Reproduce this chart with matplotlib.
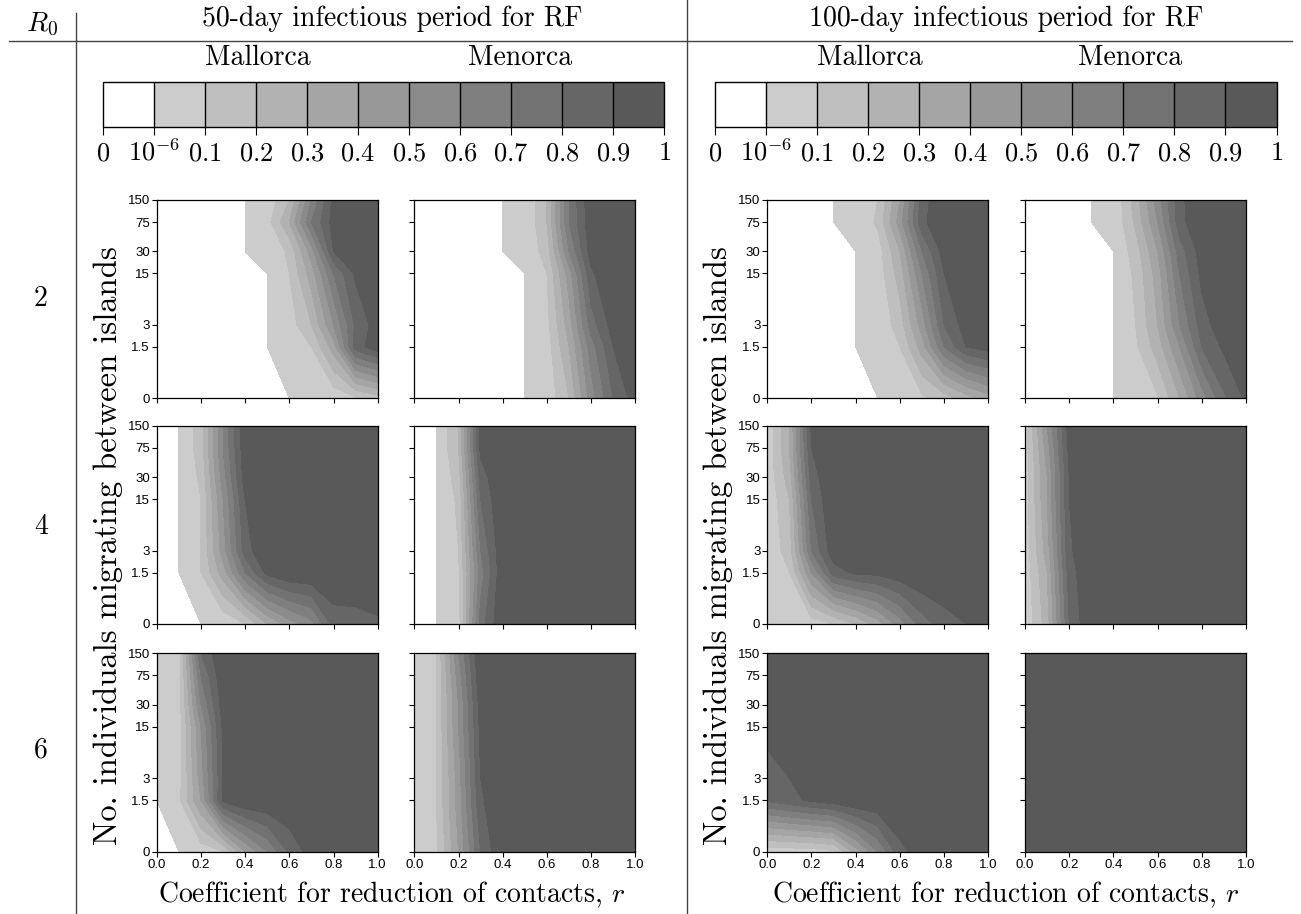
import numpy as np
import matplotlib.pyplot as plt
from matplotlib.colors import ListedColormap, BoundaryNorm
from matplotlib.cm import ScalarMappable
from matplotlib.lines import Line2D

plt.rcParams['mathtext.fontset'] = 'cm'
plt.rcParams['axes.unicode_minus'] = False

# grid of the simulations
r_values = [0.0, 0.1, 0.2, 0.3, 0.4, 0.5, 0.6, 0.7, 0.8, 0.9, 1.0]
migrants = [0, 1.5, 3, 15, 30, 75, 150]
migrant_labels = ['0', '1.5', '3', '15', '30', '75', '150']
r0_labels = ['2', '4', '6']
period_titles = ['50-day infectious period for RF', '100-day infectious period for RF']
islands = ['Mallorca', 'Menorca']

levels = [0, 1e-6, 0.1, 0.2, 0.3, 0.4, 0.5, 0.6, 0.7, 0.8, 0.9, 1.0]
level_labels = ['$0$', '$10^{-6}$', '$0.1$', '$0.2$', '$0.3$', '$0.4$', '$0.5$',
                '$0.6$', '$0.7$', '$0.8$', '$0.9$', '$1$']

# rows: migrants 0, 1.5, 3, 15, 30, 75, 150 ; columns: r = 0 .. 1
r2_50_mallorca = [
    [0, 0, 0, 0, 0, 0, 0, .01, .03, .08, .15],
    [0, 0, 0, 0, 0, 0, .03, .1, .35, .85, .97],
    [0, 0, 0, 0, 0, 0, .05, .2, .5, .82, .95],
    [0, 0, 0, 0, 0, 0, .1, .35, .7, .92, 1],
    [0, 0, 0, 0, 0, .02, .12, .45, .9, 1, 1],
    [0, 0, 0, 0, 0, .06, .3, .7, .94, 1, 1],
    [0, 0, 0, 0, 0, .03, .2, .6, .93, 1, 1]]
r2_50_menorca = [
    [0, 0, 0, 0, 0, 0, .03, .2, .55, .8, .95],
    [0, 0, 0, 0, 0, 0, .05, .3, .65, .9, 1],
    [0, 0, 0, 0, 0, 0, .07, .35, .75, .95, 1],
    [0, 0, 0, 0, 0, 0, .1, .45, .88, 1, 1],
    [0, 0, 0, 0, 0, .01, .15, .6, .95, 1, 1],
    [0, 0, 0, 0, 0, .01, .2, .7, .97, 1, 1],
    [0, 0, 0, 0, 0, .01, .2, .7, .98, 1, 1]]
r2_100_mallorca = [
    [0, 0, 0, 0, 0, 0, .02, .08, .15, .25, .35],
    [0, 0, 0, 0, 0, .01, .1, .35, .7, .9, .95],
    [0, 0, 0, 0, 0, .02, .15, .45, .8, .95, 1],
    [0, 0, 0, 0, 0, .04, .25, .6, .9, 1, 1],
    [0, 0, 0, 0, 0, .05, .3, .7, .95, 1, 1],
    [0, 0, 0, 0, .01, .12, .45, .87, 1, 1, 1],
    [0, 0, 0, 0, .01, .1, .4, .85, 1, 1, 1]]
r2_100_menorca = [
    [0, 0, 0, 0, 0, .03, .09, .3, .55, .78, .92],
    [0, 0, 0, 0, 0, .08, .25, .5, .8, .92, 1],
    [0, 0, 0, 0, 0, .1, .3, .6, .85, .97, 1],
    [0, 0, 0, 0, 0, .12, .35, .7, .93, 1, 1],
    [0, 0, 0, 0, 0, .15, .4, .75, .95, 1, 1],
    [0, 0, 0, 0, .01, .22, .5, .86, 1, 1, 1],
    [0, 0, 0, 0, .01, .25, .55, .87, 1, 1, 1]]
r4_50_mallorca = [
    [0, 0, 0, .02, .1, .3, .45, .56, .84, .85, .88],
    [0, 0, .1, .35, .7, .93, 1, 1, 1, 1, 1],
    [0, 0, .1, .45, .85, 1, 1, 1, 1, 1, 1],
    [0, 0, .1, .5, .9, 1, 1, 1, 1, 1, 1],
    [0, 0, .12, .55, .95, 1, 1, 1, 1, 1, 1],
    [0, 0, .15, .6, .97, 1, 1, 1, 1, 1, 1],
    [0, 0, .15, .6, .97, 1, 1, 1, 1, 1, 1]]
r4_50_menorca = [
    [0, 0, .05, .75, 1, 1, 1, 1, 1, 1, 1],
    [0, 0, .08, .65, .98, 1, 1, 1, 1, 1, 1],
    [0, 0, .1, .7, .98, 1, 1, 1, 1, 1, 1],
    [0, 0, .12, .8, 1, 1, 1, 1, 1, 1, 1],
    [0, 0, .15, .85, 1, 1, 1, 1, 1, 1, 1],
    [0, 0, .2, .93, 1, 1, 1, 1, 1, 1, 1],
    [0, 0, .2, .95, 1, 1, 1, 1, 1, 1, 1]]
r4_100_mallorca = [
    [.02, .03, .05, .1, .2, .35, .55, .75, .85, .9, .95],
    [.02, .1, .5, .85, .92, .93, .97, 1, 1, 1, 1],
    [.02, .15, .7, .97, 1, 1, 1, 1, 1, 1, 1],
    [.02, .2, .8, 1, 1, 1, 1, 1, 1, 1, 1],
    [.03, .25, .85, 1, 1, 1, 1, 1, 1, 1, 1],
    [.03, .3, .9, 1, 1, 1, 1, 1, 1, 1, 1],
    [.03, .3, .92, 1, 1, 1, 1, 1, 1, 1, 1]]
r4_100_menorca = [
    [.02, .25, .8, 1, 1, 1, 1, 1, 1, 1, 1],
    [.03, .3, .85, 1, 1, 1, 1, 1, 1, 1, 1],
    [.04, .35, .88, 1, 1, 1, 1, 1, 1, 1, 1],
    [.04, .4, .9, 1, 1, 1, 1, 1, 1, 1, 1],
    [.04, .4, .9, 1, 1, 1, 1, 1, 1, 1, 1],
    [.05, .45, .93, 1, 1, 1, 1, 1, 1, 1, 1],
    [.05, .5, .95, 1, 1, 1, 1, 1, 1, 1, 1]]
r6_50_mallorca = [
    [0, 0, .04, .1, .4, .6, .82, .95, 1, 1, 1],
    [0, .08, .4, .92, 1, 1, 1, 1, 1, 1, 1],
    [.01, .05, .45, .9, 1, 1, 1, 1, 1, 1, 1],
    [.01, .05, .5, .92, 1, 1, 1, 1, 1, 1, 1],
    [.01, .05, .6, .95, 1, 1, 1, 1, 1, 1, 1],
    [.01, .05, .7, .98, 1, 1, 1, 1, 1, 1, 1],
    [.01, .05, .8, 1, 1, 1, 1, 1, 1, 1, 1]]
r6_50_menorca = [
    [.02, .08, .4, .8, 1, 1, 1, 1, 1, 1, 1],
    [.02, .1, .45, .88, 1, 1, 1, 1, 1, 1, 1],
    [.02, .1, .45, .9, 1, 1, 1, 1, 1, 1, 1],
    [.02, .1, .5, .93, 1, 1, 1, 1, 1, 1, 1],
    [.02, .1, .5, .95, 1, 1, 1, 1, 1, 1, 1],
    [.02, .1, .55, .98, 1, 1, 1, 1, 1, 1, 1],
    [.02, .1, .6, 1, 1, 1, 1, 1, 1, 1, 1]]
r6_100_mallorca = [
    [.03, .04, .05, .08, .35, .6, .87, .95, 1, 1, 1],
    [.82, .87, .92, .96, 1, 1, 1, 1, 1, 1, 1],
    [.85, .9, 1, 1, 1, 1, 1, 1, 1, 1, 1],
    [.94, 1, 1, 1, 1, 1, 1, 1, 1, 1, 1],
    [1, 1, 1, 1, 1, 1, 1, 1, 1, 1, 1],
    [1, 1, 1, 1, 1, 1, 1, 1, 1, 1, 1],
    [1, 1, 1, 1, 1, 1, 1, 1, 1, 1, 1]]
r6_100_menorca = [[1] * 11 for _ in range(7)]

panels = [
    [r2_50_mallorca, r2_50_menorca, r2_100_mallorca, r2_100_menorca],
    [r4_50_mallorca, r4_50_menorca, r4_100_mallorca, r4_100_menorca],
    [r6_50_mallorca, r6_50_menorca, r6_100_mallorca, r6_100_menorca],
]

colors = ['#ffffff', '#cccccc', '#bfbfbf', '#b2b2b2', '#a5a5a5', '#989898',
          '#8b8b8b', '#7f7f7f', '#727272', '#666666', '#595959']
cmap = ListedColormap(colors)
norm = BoundaryNorm(levels, cmap.N)

W, H = 1301, 914
fig = plt.figure(figsize=(W / 100, H / 100), dpi=100)


def add_ax(left, top, w, h):
    return fig.add_axes([left / W, 1 - (top + h) / H, w / W, h / H])


def ftext(x, y, s, **kw):
    fig.text(x / W, 1 - y / H, s, ha='center', va='center', **kw)


# log axis for migrants, zero drawn at 0.3
ypos = np.log10(np.maximum(migrants, 0.3))

col_left = [156.7, 414.3, 767.3, 1025]
row_top = [200, 425.7, 653.3]
pw, ph = 221, 198.3
tick_font = {'family': 'Liberation Sans', 'size': 9.5}

for i in range(3):
    for j in range(4):
        ax = add_ax(col_left[j], row_top[i], pw, ph)
        Z = np.array(panels[i][j])
        ax.contourf(r_values, ypos, Z, levels=levels, colors=colors)
        ax.set_xlim(0, 1)
        ax.set_ylim(ypos[0], ypos[-1])
        ax.set_yticks(ypos)
        ax.set_xticks([0, 0.2, 0.4, 0.6, 0.8, 1.0])
        if j % 2 == 0:
            ax.set_yticklabels(migrant_labels, fontdict=tick_font)
        else:
            ax.set_yticklabels([])
        if i == 2:
            ax.set_xticklabels(['0.0', '0.2', '0.4', '0.6', '0.8', '1.0'], fontdict=tick_font)
        else:
            ax.set_xticklabels([])
        ax.tick_params(length=3.5, width=0.8, pad=1.5)
        for sp in ax.spines.values():
            sp.set_linewidth(0.9)

# colour bars
for k, left in enumerate([102.7, 715]):
    cax = add_ax(left, 82.3, 561.5, 44.4)
    sm = ScalarMappable(norm=norm, cmap=cmap)
    cb = fig.colorbar(sm, cax=cax, orientation='horizontal', spacing='uniform',
                      drawedges=True, ticks=levels)
    cb.set_ticklabels(level_labels)
    cb.ax.tick_params(length=6, width=0.8, labelsize=19, pad=18)
    for lab in cb.ax.get_xticklabels():
        lab.set_verticalalignment('baseline')
    cb.outline.set_linewidth(1.0)
    cb.dividers.set_linewidth(1.0)

# table text
ftext(41.7, 24, '$R_0$', fontsize=20)
for k, cx in enumerate([392, 1006]):
    ftext(cx, 19, period_titles[k], fontsize=20, family='cmr10')
    ftext(cx, 895, 'Coefficient for reduction of contacts, $r$', fontsize=20, family='cmr10')
for k, cx in enumerate([258, 520, 870, 1130]):
    ftext(cx, 58, islands[k % 2], fontsize=20, family='cmr10')
for k, lx in enumerate([108, 718]):
    ftext(lx, 546, 'No. individuals migrating between islands', fontsize=23.5,
          family='cmr10', rotation=90)
for i, cy in enumerate([299, 527, 750]):
    ftext(41, cy, r0_labels[i], fontsize=20, family='cmr10')

# table rules
line_kw = dict(transform=fig.transFigure, color='#444444', lw=1.0)
fig.add_artist(Line2D([9 / W, 1292 / W], [1 - 40.7 / H] * 2, **line_kw))
fig.add_artist(Line2D([76 / W] * 2, [1 - 13 / H, 0], **line_kw))
fig.add_artist(Line2D([687 / W] * 2, [1, 0], **line_kw))

fig.savefig('out.png', dpi=100)
